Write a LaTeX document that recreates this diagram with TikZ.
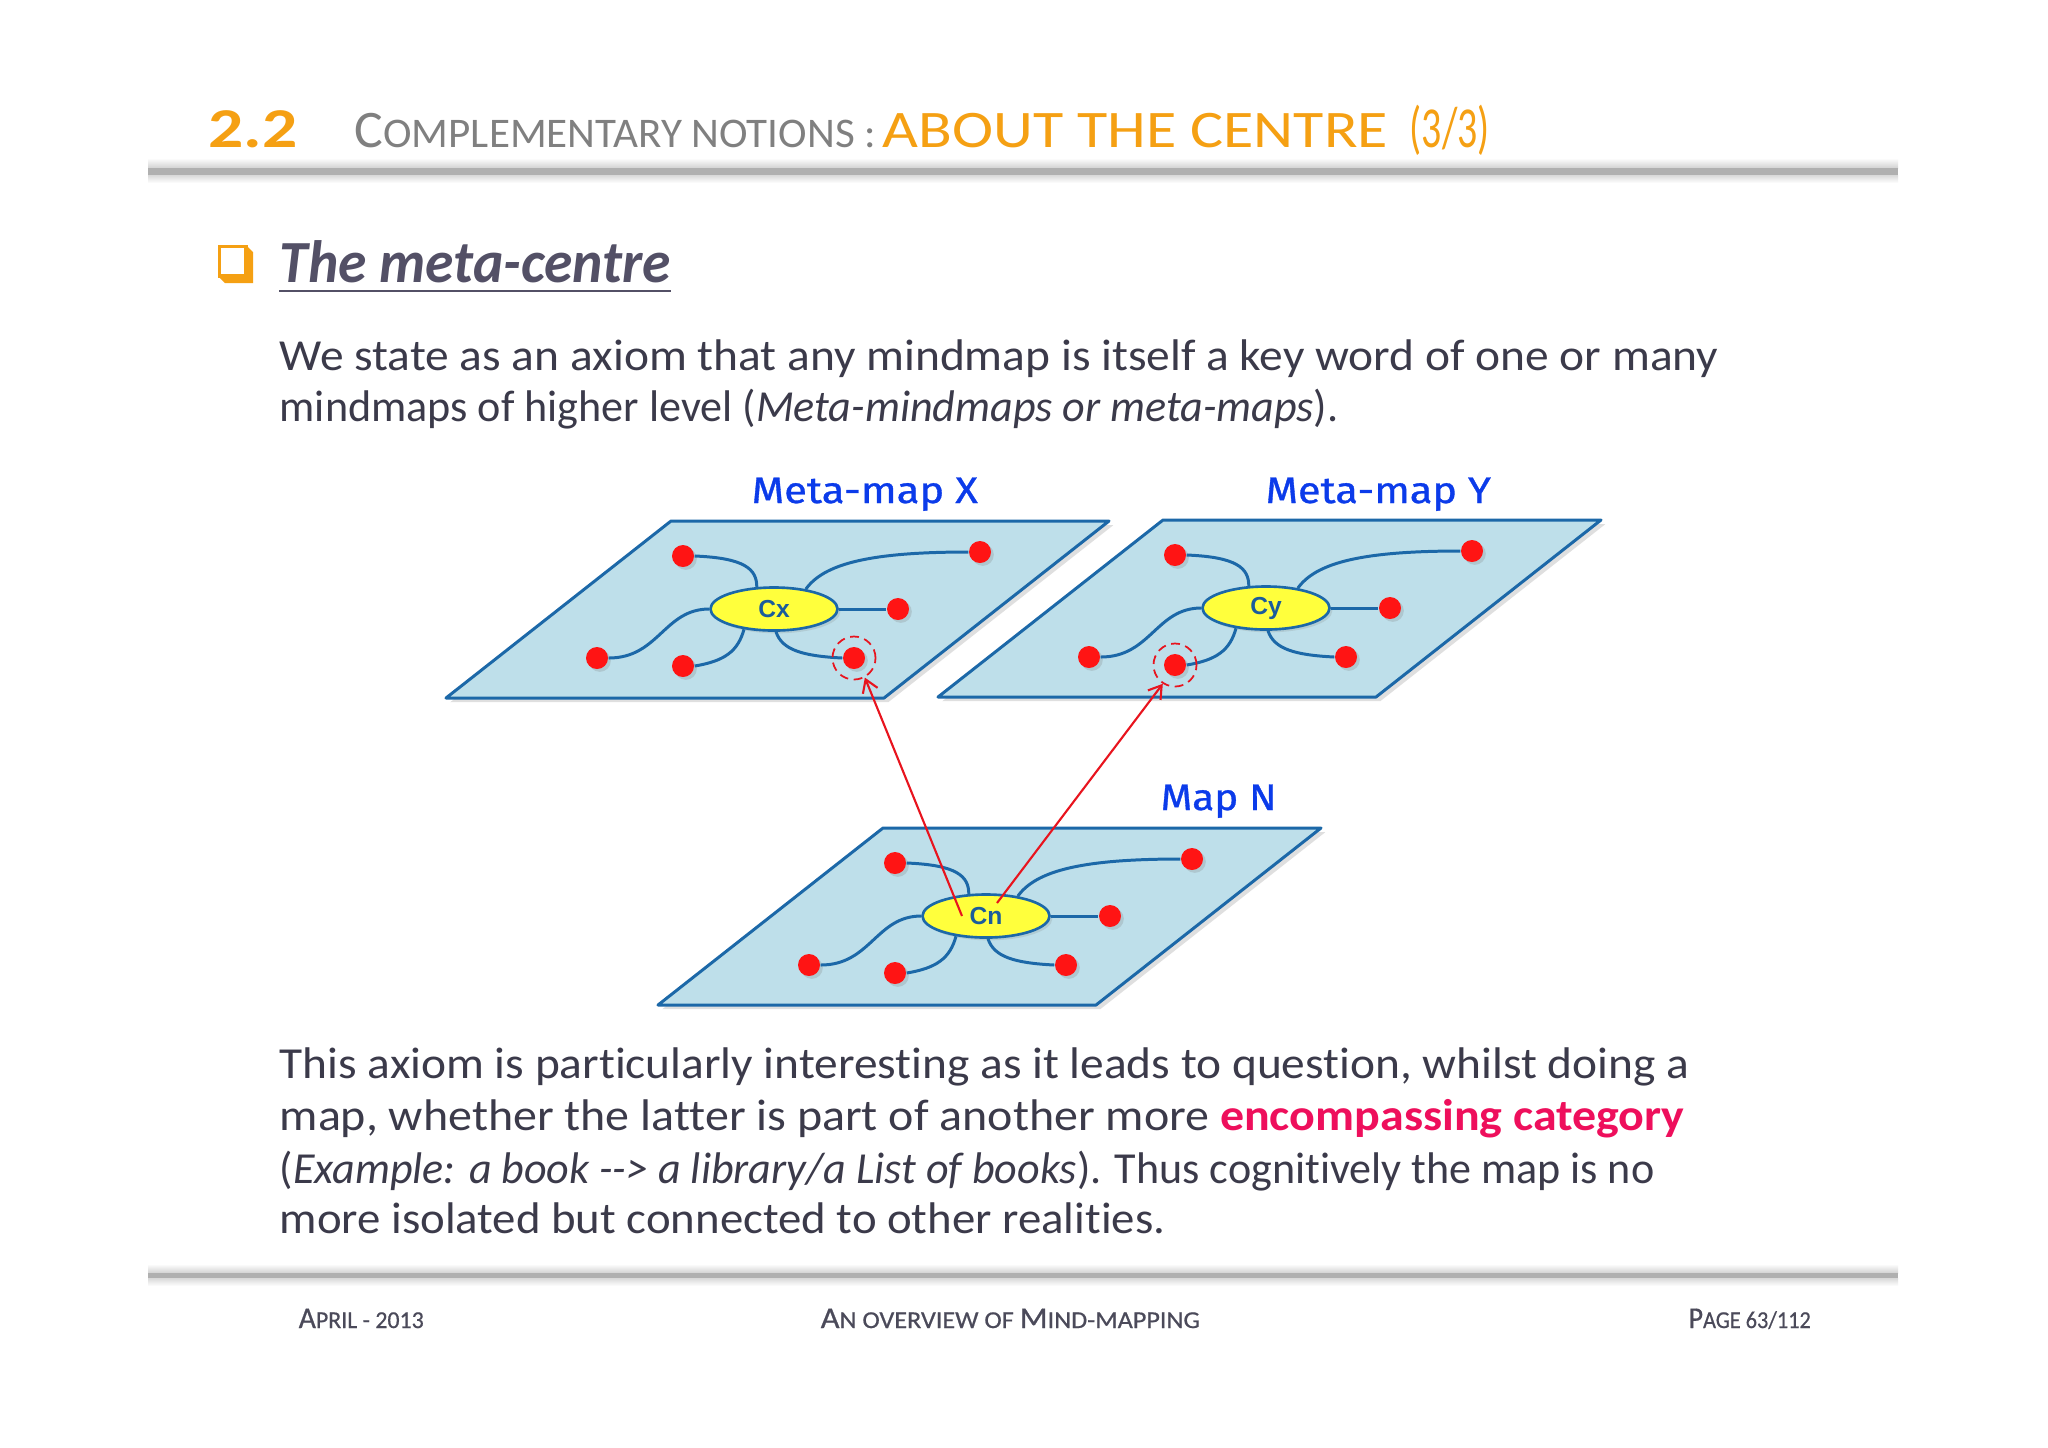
\documentclass[tikz,border=0pt]{standalone}
\usepackage{fontspec}
\setmainfont{Carlito}[Ligatures=NoCommon]
\newfontfamily\lblfont{Fira Sans}[FakeBold=0.8]
\newfontfamily\arialb{Liberation Sans}
\newfontfamily\footfont{Carlito}[FakeBold=0.6]
\usepackage{graphicx}
\usetikzlibrary{shapes.geometric,shadows,arrows.meta,calc}
\definecolor{orng}{HTML}{F5A013}
\definecolor{tgray}{HTML}{808080}
\definecolor{txtc}{HTML}{3B3A4A}
\definecolor{headc}{HTML}{535066}
\definecolor{footc}{HTML}{4B4A5A}
\definecolor{pinkc}{HTML}{EE0F5C}
\definecolor{lblue}{HTML}{0B3BEA}
\definecolor{planef}{HTML}{BEDFEA}
\definecolor{planed}{HTML}{1C68A8}
\definecolor{ellf}{HTML}{FFFF3C}
\definecolor{cxc}{HTML}{1A5C9C}
\definecolor{dotc}{HTML}{FF1414}
\definecolor{arrc}{HTML}{E8141E}
\newcommand\fitw[2]{\resizebox{#1}{\height}{#2}}
\newcommand\bigsc{\fontsize{8.6pt}{8pt}\selectfont}
\newcommand\smsc{\fontsize{6.9pt}{6pt}\selectfont}
\newcommand\bodyf{\fontsize{12.6pt}{15pt}\selectfont}
\tikzset{
  planesty/.style={fill=planef, draw=planed, line width=0.85pt, line join=round,
    drop shadow={opacity=0.25, shadow xshift=1.2pt, shadow yshift=-1.2pt}},
  mlink/.style={draw=planed, line width=0.85pt},
  cnode/.style={ellipse, fill=ellf, draw=planed, line width=0.75pt,
    minimum width=1.27cm, minimum height=0.43cm, inner sep=0pt,
    font=\arialb\bfseries\fontsize{7pt}{8pt}\selectfont, text=cxc,
    drop shadow={opacity=0.2, shadow xshift=0.8pt, shadow yshift=-0.8pt}},
  rdot/.style={circle, fill=dotc, minimum size=0.22cm, inner sep=0pt,
    drop shadow={opacity=0.25, shadow xshift=0.8pt, shadow yshift=-0.8pt}},
  ring/.style={circle, draw=arrc, dash pattern=on 2.5pt off 1.6pt, line width=0.5pt,
    minimum size=0.43cm, inner sep=0pt},
  redarr/.style={draw=arrc, line width=0.6pt, -{Straight Barb[length=3.5pt,width=4.5pt]}},
  txt/.style={anchor=base west, inner sep=0pt, text=txtc, font=\bodyf},
  lbl/.style={anchor=base west, inner sep=0pt, text=lblue, font=\lblfont\fontsize{10.5pt}{12pt}\selectfont},
  foot/.style={anchor=base west, inner sep=0pt, text=footc, font=\footfont},
}
\newcommand{\mplane}[4]{%
  \begin{scope}[shift={(#2,#3)}]
    \draw[planesty] (0,0) -- (438,0) -- (213,177) -- (-225,177) -- cycle;
    \node[cnode] (#1c) at (103,88) {#4};
    \node[rdot] (#1d1) at (12,35) {};
    \node[rdot] (#1d2) at (309,31) {};
    \node[rdot] (#1d3) at (227,88) {};
    \node[rdot] (#1d4) at (-74,137) {};
    \node[rdot] (#1d5) at (12,145) {};
    \node[rdot] (#1d6) at (183,137) {};
    \draw[mlink] (#1d1.east) .. controls +(50,2) and +(0,-18) .. (#1c.128);
    \draw[mlink] (#1c.32) .. controls +(18,-25) and +(-100,0) .. (#1d2.west);
    \draw[mlink] (#1c.east) -- (#1d3.west);
    \draw[mlink] (#1c.west) .. controls +(-45,0) and +(50,0) .. (#1d4.east);
    \draw[mlink] (#1c.214) .. controls +(-6,22) and +(30,-5) .. (#1d5.east);
    \draw[mlink] (#1c.275) .. controls +(6,18) and +(-40,-2) .. (#1d6.west);
  \end{scope}}
\begin{document}
\begin{tikzpicture}[x=0.01cm,y=-0.01cm]
\useasboundingbox (0,0) rectangle (2048,1447);
\fill[white] (0,0) rectangle (2048,1447);
% header
\node[anchor=base west, inner sep=0pt, text=orng] (t22) at (208,147) {\fitw{0.89cm}{\fontsize{16pt}{16pt}\selectfont\bfseries 2.2}};
\node[anchor=base west, inner sep=0pt, text=tgray] (t1) at (354,147) {\fitw{5.21cm}{\fontsize{15pt}{15pt}\selectfont C\fontsize{12pt}{12pt}\selectfont OMPLEMENTARY NOTIONS :}};
\node[anchor=base west, inner sep=0pt, text=orng] (t2) at (882,147) {\fitw{5.05cm}{\fontsize{15pt}{15pt}\selectfont ABOUT THE CENTRE}};
\node[anchor=base west, inner sep=0pt, text=orng] (t3) at (1409,147) {\fitw{0.80cm}{\fontsize{16.5pt}{16pt}\selectfont (3/3)}};
\shade[top color=white, bottom color=gray!35] (148,158) rectangle (1898,168);
\fill[gray!62] (148,168) rectangle (1898,175);
\shade[top color=gray!30, bottom color=white] (148,175) rectangle (1898,183);
% heading with 3D box bullet
\fill[orng] (246,245) -- (253,252) -- (253,283) -- (225,283) -- (218,276) -- (246,276) -- cycle;
\draw[orng, line width=0.9pt, fill=white] (219.5,246.5) rectangle (246,276);
\node[anchor=base west, inner sep=0pt, text=headc] (hd) at (279,282) {\fitw{3.91cm}{\fontsize{17pt}{17pt}\selectfont\bfseries\itshape The meta-centre}};
\draw[headc, line width=0.6pt] (279,291) -- (671,291);
% paragraph 1
\node[txt] (p1a) at (279,370) {\fitw{14.38cm}{We state as an axiom that any mindmap is itself a key word of one or many}};
\node[txt] (p1b) at (279,421) {\fitw{10.58cm}{mindmaps of higher level (\textit{Meta-mindmaps or meta-maps}).}};
% planes
\mplane{X}{671}{521}{Cx}
\mplane{Y}{1163}{520}{Cy}
\mplane{N}{883}{828}{Cn}
\node[ring] (Xr) at (Xd6) {};
\node[ring] (Yr) at (Yd5) {};
\coordinate (s1) at ($(Nc)+(-24,0)$);
\coordinate (s2) at ($(Nc)+(11,-13)$);
\draw[redarr] (s1) -- (Xr.299);
\draw[redarr] (s2) -- (Yr.237);
\node[lbl] (lx) at (751,503) {\fitw{2.26cm}{Meta-map X}};
\node[lbl] (ly) at (1265,503) {\fitw{2.25cm}{Meta-map Y}};
\node[lbl] (ln) at (1160,810) {\fitw{1.16cm}{Map N}};
% paragraph 2
\node[txt] (p2a) at (279,1078) {\fitw{14.09cm}{This axiom is particularly interesting as it leads to question, whilst doing a}};
\node[txt] (p2b) at (279,1130) {\fitw{14.04cm}{map, whether the latter is part of another more {\color{pinkc}\bfseries encompassing category}}};
\node[txt] (p2c) at (279,1183) {\fitw{13.74cm}{(\textit{Example: a book -\kern0pt-\kern0pt> a library/a List of books}). Thus cognitively the map is no}};
\node[txt] (p2d) at (279,1233) {\fitw{8.85cm}{more isolated but connected to other realities.}};
% footer
\shade[top color=white, bottom color=gray!35] (148,1264) rectangle (1898,1273);
\fill[gray!62] (148,1273) rectangle (1898,1278);
\shade[top color=gray!30, bottom color=white] (148,1278) rectangle (1898,1286);
\node[foot] (f1) at (298,1328) {\fitw{1.25cm}{\bigsc A\smsc PRIL - 2013}};
\node[foot] (f2) at (820,1328) {\fitw{3.79cm}{\bigsc A\smsc N OVERVIEW OF \bigsc M\smsc IND-MAPPING}};
\node[foot] (f3) at (1688,1328) {\fitw{1.22cm}{\bigsc P\smsc AGE 63/112}};
\end{tikzpicture}
\end{document}
